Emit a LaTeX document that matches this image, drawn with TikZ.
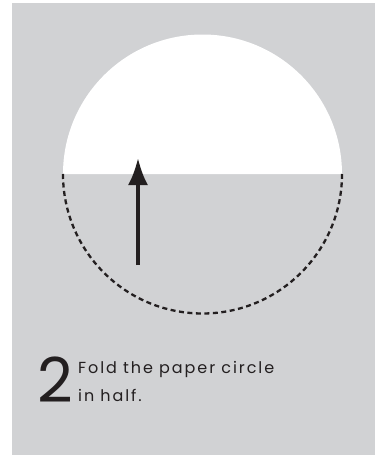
\documentclass[tikz,border=0pt]{standalone}
\usepackage{fontspec}
\setmainfont{Poppins}[LetterSpace=12]
\newfontfamily\numfont{Poppins}
\usepackage{xcolor}
\usetikzlibrary{arrows.meta}
\definecolor{paper}{HTML}{D1D2D4}
\definecolor{ink}{HTML}{231F20}
\tikzset{
  panel/.style={fill=paper,draw=none},
  foldline/.style={draw=ink,line width=2.3pt,dash pattern=on 5pt off 3.5pt},
  foldarrow/.style={-{Latex[length=27pt,width=20pt]},line width=3.6pt,color=ink},
  stepnum/.style={font=\numfont\fontsize{62}{62}\selectfont,text=ink,inner sep=0pt,anchor=base west},
  caption/.style={font=\fontsize{16}{28}\selectfont,text=ink,inner sep=0pt,anchor=base west},
}

\begin{document}
\begin{tikzpicture}[x=1pt,y=-1pt]
    \useasboundingbox (0,0) rectangle (375,455);
    \fill[panel] (12,3) rectangle (375,455);
    % top half of the paper circle
    \fill[white] (63,174) arc[start angle=180,end angle=360,radius=139.5] -- cycle;
    % lower half, the fold
    \draw[foldline] (63,174) arc[start angle=180,end angle=0,radius=139.5];
    % arrow
    \coordinate (from) at (138,265);
    \coordinate (to) at (138,158);
    \draw[foldarrow] (from) -- (to);
    % step text
    \node[stepnum] (num) at (37,402) {2};
    \node[caption] (line1) at (78,373) {Fold the paper circle};
    \node[caption] (line2) at (78,401) {in half.};
\end{tikzpicture}
\end{document}
